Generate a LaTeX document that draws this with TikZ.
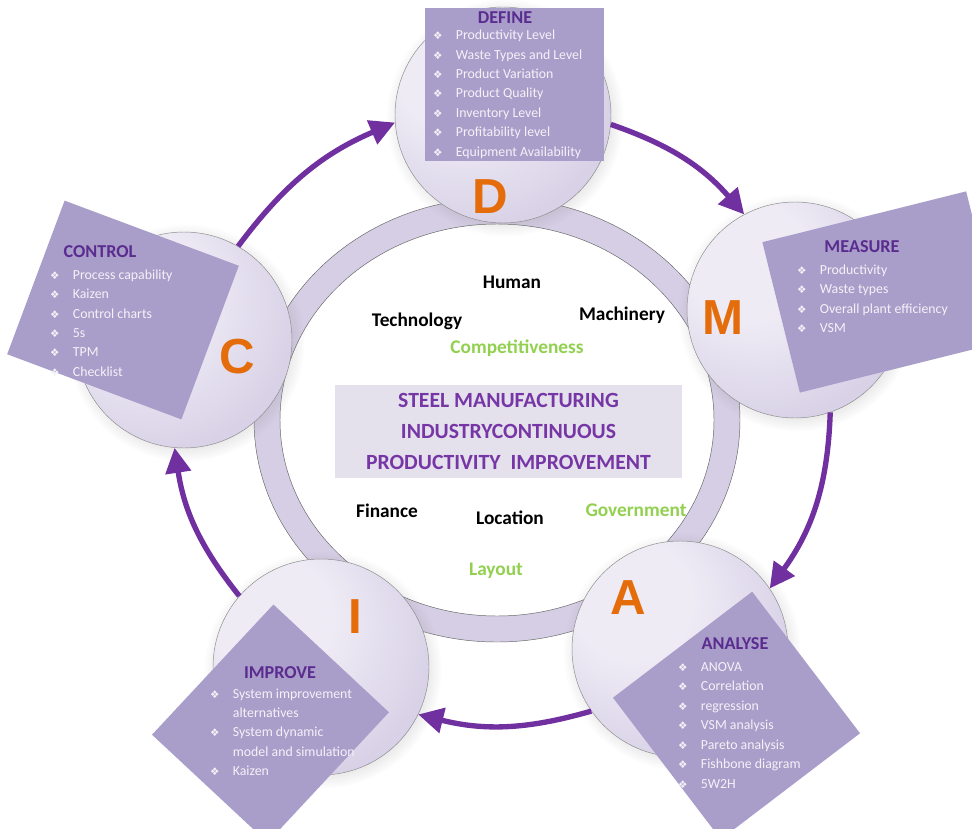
\documentclass[tikz,border=0pt]{standalone}
\usepackage{fontspec}
\setmainfont{Carlito}
\newfontfamily\bulletfont{DejaVu Sans}
\newfontfamily\letterfont{Liberation Sans}
\usetikzlibrary{arrows.meta,shadows}

\definecolor{boxfill}{HTML}{A99DC9}
\definecolor{titlepurple}{HTML}{5B2C8F}
\definecolor{arrowpurple}{HTML}{7030A0}
\definecolor{letterorange}{HTML}{E46C0A}
\definecolor{labelgreen}{HTML}{92D050}
\definecolor{corefill}{HTML}{E4E0EC}
\definecolor{coretext}{HTML}{7636A6}
\definecolor{ringfill}{HTML}{D6CEE5}
\definecolor{itemtext}{HTML}{F4F2F8}
\definecolor{sphlt}{HTML}{EEEBF5}
\definecolor{sphmid}{HTML}{CCC3DF}
\definecolor{sphdk}{HTML}{AB9EC8}

\pgfdeclareradialshading{sphere}{\pgfpoint{-14bp}{14bp}}{color(0bp)=(sphlt); color(14bp)=(sphlt); color(45bp)=(sphmid); color(60bp)=(sphdk); color(70bp)=(sphdk)}

\newcommand{\blt}{\makebox[6.8mm][l]{\bulletfont\fontsize{9}{9}\selectfont ❖}}
\newcommand{\nob}{\makebox[6.8mm]{}}

\begin{document}
\begin{tikzpicture}[x=0.3mm, y=-0.3mm,
  sphere/.style={circle, minimum size=64.8mm, inner sep=0pt, draw=black!45, thin, shading=sphere,
    circular drop shadow={opacity=.2, shadow xshift=.5mm, shadow yshift=-.7mm}},
  letter/.style={text=letterorange, font=\letterfont\bfseries\fontsize{42}{42}\selectfont},
  panel/.style={fill=boxfill, inner sep=0pt},
  ttl/.style={text=titlepurple, inner sep=0pt, font=\bfseries\fontsize{15.5}{18}\selectfont},
  itm/.style={anchor=west, inner sep=0pt, text=itemtext, text height=8pt, text depth=2.5pt,
    font=\fontsize{11.8}{13}\selectfont},
  lbl/.style={font=\bfseries\fontsize{16.5}{19}\selectfont},
  cyc/.style={-{Triangle[length=7.5mm,width=7.5mm]}, line width=1.6mm, draw=arrowpurple}]

\fill[white] (0,0) rectangle (972,829);
\useasboundingbox (0,0) rectangle (972,829);

% ring
\filldraw[fill=ringfill, draw=black!60, even odd rule]
  (497,420) ellipse [x radius=243, y radius=222]
  (497,420) ellipse [x radius=217, y radius=196];

% spheres
\node[sphere] (D) at (503,115) {};
\node[sphere] (M) at (795,310) {};
\node[sphere] (A) at (680,649) {};
\node[sphere] (I) at (321,667) {};
\node[sphere] (C) at (184,340) {};

\draw[cyc] (C.60) to[bend left=15] (D.184);
\draw[cyc] (D.-5) to[bend left=15] (M.118);
\draw[cyc] (M.-71) to[bend left=17] (A.34);
\draw[cyc] (A.-145) to[bend left=15] (I.-26);
\draw[cyc] (I.139) to[bend left=15] (C.-95);

\node[letter] (Dl) at (490,197) {D};
\node[letter] (Ml) at (723,318) {M};
\node[letter] (Al) at (628,598) {A};
\node[letter] (Il) at (355,617) {I};
\node[letter] (Cl) at (237,357) {C};

% define
\node[panel, minimum width=53.7mm, minimum height=45.6mm] (defbox) at (514,84.5) {};
\node[ttl] (deft) at (505,18) {DEFINE};
\foreach \t [count=\i] in {Productivity Level, Waste Types and Level, Product Variation,
  Product Quality, Inventory Level, Profitability level, Equipment Availability}
  \node[itm] (def\i) at (433,36.5+19.4*\i-19.4) {\blt\t};

% measure
\node[panel, minimum width=63mm, minimum height=46.5mm, rotate=14] (meabox) at (883,292) {};
\node[ttl] (meat) at (862,247) {MEASURE};
\foreach \t [count=\i] in {Productivity, Waste types, Overall plant efficiency, VSM}
  \node[itm] (mea\i) at (797,271+19.5*\i-19.5) {\blt\t};

% control
\node[panel, minimum width=55.8mm, minimum height=49.2mm, rotate=-20.5] (conbox) at (123,310) {};
\node[ttl] (cont) at (100,252) {CONTROL};
\foreach \t [count=\i] in {Process capability, Kaizen, Control charts, 5s, TPM, Checklist}
  \node[itm] (con\i) at (50,276+19.4*\i-19.4) {\blt\t};

% analyse
\node[panel, minimum width=52.5mm, minimum height=53.4mm, rotate=37.3] (anabox) at (736.5,715.5) {};
\node[ttl] (anat) at (735,644) {ANALYSE};
\foreach \t [count=\i] in {ANOVA, Correlation, regression, VSM analysis, Pareto analysis,
  Fishbone diagram, 5W2H}
  \node[itm] (ana\i) at (678,668+19.5*\i-19.5) {\blt\t};

% improve
\node[panel, minimum width=53.4mm, minimum height=47.4mm, rotate=47] (impbox) at (270.5,723.5) {};
\node[ttl] (impt) at (280,673) {IMPROVE};
\node[itm] (imp1) at (210,695) {\blt System improvement};
\node[itm] (imp2) at (210,714) {\nob alternatives};
\node[itm] (imp3) at (210,733) {\blt System dynamic};
\node[itm] (imp4) at (210,753) {\nob model and simulation};
\node[itm] (imp5) at (210,772) {\blt Kaizen};

% centre
\node[fill=corefill, minimum width=104.1mm, minimum height=27.9mm, align=center, text=coretext,
  font=\bfseries\fontsize{18.5}{26.5}\selectfont] (core) at (508.5,431.5)
  {STEEL MANUFACTURING\\INDUSTRYCONTINUOUS\\PRODUCTIVITY\ \ IMPROVEMENT};

\node[lbl] (human) at (512,282) {Human};
\node[lbl] (tech) at (417,321) {Technology};
\node[lbl] (mach) at (622,315) {Machinery};
\node[lbl, text=labelgreen] (comp) at (517,348) {Competitiveness};
\node[lbl] (fin) at (387,511) {Finance};
\node[lbl] (loc) at (510,518) {Location};
\node[lbl, text=labelgreen] (gov) at (636,510) {Government};
\node[lbl, text=labelgreen] (lay) at (496,571) {Layout};
\end{tikzpicture}
\end{document}
